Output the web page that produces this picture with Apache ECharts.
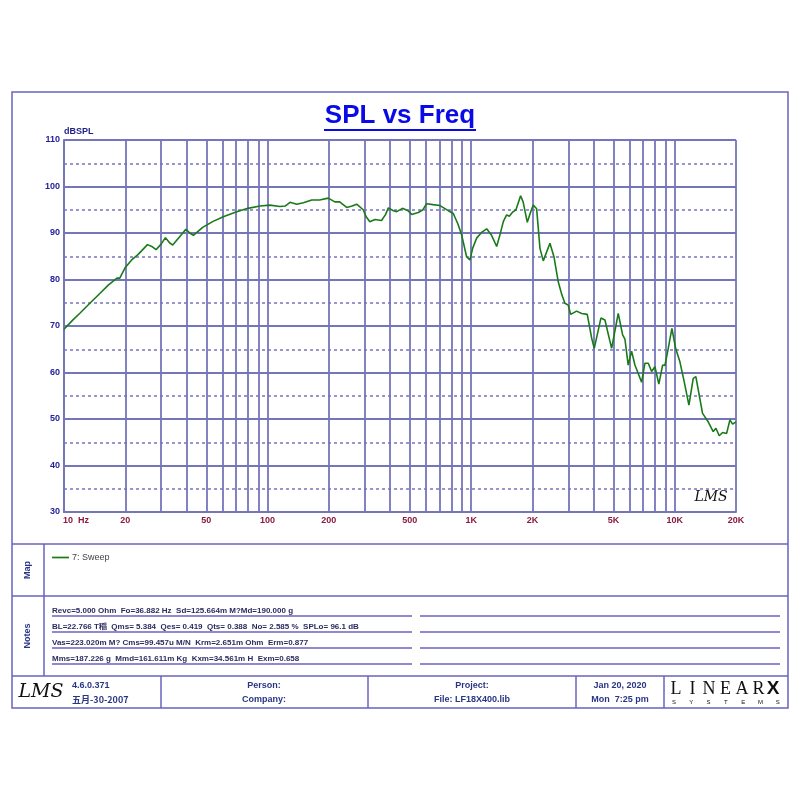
<!DOCTYPE html>
<html><head><meta charset="utf-8">
<script src="https://cdn.jsdelivr.net/npm/echarts@6/dist/echarts.min.js"></script>
<style>html,body{margin:0;padding:0;background:#fff}#c{width:800px;height:800px}</style>
</head><body><div id="c"></div>
<script>
// ---- data ----
const freqHz = [10,11,12,13.4,15,16.5,18.2,18.8,20,21.5,23,24.1,25.7,27,28.3,30,31.5,33,34.2,37,39.7,41.5,43.2,48,54,60.6,70,80,91.8,102.7,115,122,128.9,139,150,164.7,180,198.7,214,226,244.7,260,274,295,305,318,337,363,380,392,415,431,460,490,510,550,580,604,650,703,772,817,860,898,950,986,1017,1064,1130,1192,1260,1335,1385,1440,1494,1540,1600,1660,1750,1800,1887,1960,2019,2098,2178,2261,2438,2551,2678,2790,2888,2999,3082,3297,3490,3718,3908,4024,4340,4541,4898,5279,5547,5693,5909,6140,6376,6875,7139,7413,7700,7993,8358,8720,8950,9295,9688,10100,10605,11136,11743,12330,12700,13700,14605,15455,15940,16546,17185,17990,18670,19250,20000];
const splDb = [69.3,71.2,72.8,74.9,77.0,78.8,80.3,80.3,82.6,84.2,85.3,86.2,87.5,87.1,86.4,87.6,89.0,87.9,87.4,89.2,90.8,90.0,89.5,91.2,92.5,93.5,94.5,95.3,95.8,96.0,95.7,95.8,96.6,96.2,96.5,97.1,97.1,97.5,96.7,96.7,95.5,95.8,96.2,95.0,93.5,92.4,92.9,92.7,94.0,95.4,94.8,94.6,95.3,94.8,94.0,94.4,95.0,96.3,96.1,95.9,94.8,94.2,92.0,89.6,84.9,84.2,86.7,88.9,90.2,90.9,89.5,87.1,89.6,92.5,93.9,93.6,94.5,95.0,98.0,96.7,92.3,94.5,96.0,95.2,86.7,84.0,87.8,84.9,79.5,76.7,74.9,74.5,72.5,73.2,72.7,72.5,67.4,65.2,71.7,71.3,65.2,72.7,68.1,67.2,61.6,64.6,61.6,57.9,62.0,62.0,60.2,61.25,57.5,61.6,61.5,65.2,69.5,65.2,62.3,58.0,53.0,58.75,59.1,51.2,49.4,47.3,48.0,46.4,47.1,46.9,49.8,48.9,49.4];
const gridFreqs = [20,30,40,50,60,70,80,90,100,200,300,400,500,600,700,800,900,1000,2000,3000,4000,5000,6000,7000,8000,9000,10000,20000];
const xTickValues = [10,20,50,100,200,500,1000,2000,5000,10000,20000];
const seriesName = '7: Sweep';
const noteLines = [
  'Revc=5.000 Ohm  Fo=36.882 Hz  Sd=125.664m M?Md=190.000 g',
  'BL=22.766 T稲  Qms= 5.384  Qes= 0.419  Qts= 0.388  No= 2.585 %  SPLo= 96.1 dB',
  'Vas=223.020m M? Cms=99.457u M/N  Krm=2.651m Ohm  Erm=0.877',
  'Mms=187.226 g  Mmd=161.611m Kg  Kxm=34.561m H  Exm=0.658'
];

const FRAME = '#6a62bd';
const GRIDC = '#7575ba';
const TXT = '#2a3585';
const FONT = 'Liberation Sans, Arial, sans-serif';

const chart = echarts.init(document.getElementById('c'), null, {renderer:'canvas'});

const g = [];
function line(x1,y1,x2,y2,w,c){g.push({type:'line',silent:true,z:0,shape:{x1,y1,x2,y2},style:{stroke:c||FRAME,lineWidth:w||1.5}});}
function text(t,x,y,font,fill,align){g.push({type:'text',silent:true,z:10,style:{text:t,x,y,font,fill:fill||TXT,textAlign:align||'left',textVerticalAlign:'middle'}});}
function vtext(t,x,y,font,fill){g.push({type:'text',silent:true,z:10,x,y,rotation:Math.PI/2,style:{text:t,x:0,y:0,font,fill:fill||TXT,textAlign:'center',textVerticalAlign:'middle'}});}

// outer frame & sections
g.push({type:'rect',silent:true,z:0,shape:{x:12,y:92,width:776,height:616},style:{fill:'none',stroke:FRAME,lineWidth:1.5}});
line(12,544,788,544); line(12,596,788,596); line(12,676,788,676);
line(44,544,44,676);
[161,368,576,664].forEach(x=>line(x,676,x,708));
// notes lines
[616,632,648,664].forEach(y=>{line(52,y,412,y,1.3); line(420,y,780,y,1.3);});
noteLines.forEach((t,i)=>text(t,52,611+i*16,'bold 8px '+FONT,'#2b2b5e'));
// side labels
vtext('Map',28,570,'bold 9px '+FONT);
vtext('Notes',28,636,'bold 9px '+FONT);
// title
text('SPL vs Freq',400,116,'bold 26px '+FONT,'#0a0ae6','center');
line(324,130,476,130,2.2,'#0a0ae6');
text('dBSPL',64,132,'bold 9px '+FONT,'#1e1e88','left');
// LMS signatures
text('LMS',711,497,'italic 14px DejaVu Serif, serif','#111','center');
text('LMS',41,692,'italic 19px DejaVu Serif, serif','#111','center');
// footer
text('4.6.0.371',72,686,'bold 9px '+FONT,TXT);
text('五月-30-2007',72,700,'bold 9px Noto Sans CJK SC, '+FONT,TXT);
text('Person:',264,686,'bold 9px '+FONT,TXT,'center');
text('Company:',264,700,'bold 9px '+FONT,TXT,'center');
text('Project:',472,686,'bold 9px '+FONT,TXT,'center');
text('File: LF18X400.lib',472,700,'bold 9px '+FONT,TXT,'center');
text('Jan 20, 2020',620,686,'bold 9px '+FONT,TXT,'center');
text('Mon  7:25 pm',620,700,'bold 9px '+FONT,TXT,'center');
'LINEAR'.split('').forEach((ch,i)=>text(ch,676+i*16.5,689,'18px Liberation Serif, serif','#111','center'));
text('X',773,689,'900 19px Liberation Sans, sans-serif','#111','center');
'SYSTEMS'.split('').forEach((ch,i)=>text(ch,674+i*17.3,702,'6px Liberation Sans, sans-serif','#111','center'));

const option = {
  animation:false,
  backgroundColor:'#fff',
  grid:{left:64,right:64,top:140,bottom:288,containLabel:false},
  legend:{data:[seriesName],left:52,top:553,padding:0,icon:'path://M0,0H20V2H0Z',itemWidth:17,itemHeight:2,itemGap:4,
    textStyle:{fontSize:9,color:'#444',fontFamily:FONT,padding:[0,0,0,-2]}},
  xAxis:{type:'log',logBase:10,min:10,max:20000,
    axisLine:{show:true,lineStyle:{color:GRIDC,width:2}},
    axisTick:{show:false},
    splitLine:{show:false},
    axisLabel:{customValues:xTickValues,color:'#8a1a40',fontWeight:'bold',fontSize:9,fontFamily:FONT,margin:4,
      formatter:v=>v===10?'{a|10  Hz}':(v>=1000?(v/1000)+'K':String(v)),
      rich:{a:{padding:[0,0,0,24],color:'#8a1a40',fontWeight:'bold',fontSize:9,fontFamily:FONT}}}
  },
  yAxis:{type:'value',min:30,max:110,interval:10,
    axisLine:{show:true,lineStyle:{color:GRIDC,width:2}},
    axisTick:{show:false},
    axisLabel:{color:'#23239a',fontWeight:'bold',fontSize:9,fontFamily:FONT,margin:4},
    splitLine:{show:true,lineStyle:{color:GRIDC,width:2}},
    minorTick:{show:false,splitNumber:2},
    minorSplitLine:{show:true,lineStyle:{color:GRIDC,width:1.5,type:[3,3]}}
  },
  graphic:g,
  series:[
    {type:'line',name:'grid',data:[],z:1,silent:true,
      markLine:{silent:true,symbol:['none','none'],label:{show:false},animation:false,
        lineStyle:{color:GRIDC,width:1.8,type:'solid'},
        data:gridFreqs.map(f=>({xAxis:f}))}},
    {type:'line',name:seriesName,z:5,symbol:'none',smooth:false,
      lineStyle:{color:'#1a7a1a',width:1.6},itemStyle:{color:'#1a7a1a'},
      data:freqHz.map((f,i)=>[f,splDb[i]])}
  ]
};
chart.setOption(option);
</script></body></html>
